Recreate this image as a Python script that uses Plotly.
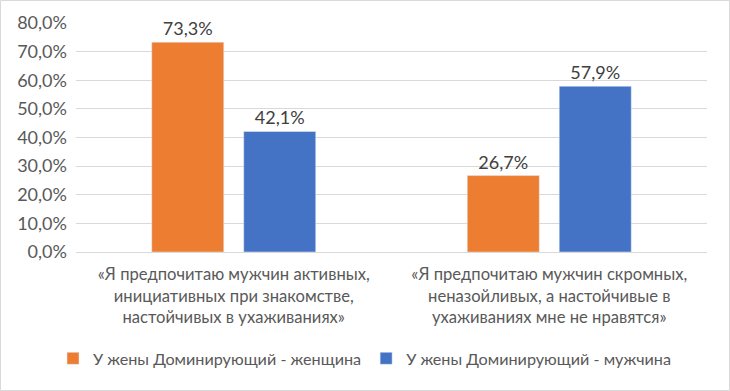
import plotly.graph_objects as go

categories = [
    "«Я предпочитаю мужчин активных,<br>инициативных при знакомстве,<br>настойчивых в ухаживаниях»",
    "«Я предпочитаю мужчин скромных,<br>неназойливых, а настойчивые в<br>ухаживаниях мне не нравятся»",
]
series_names = ["У жены Доминирующий - женщина", "У жены Доминирующий - мужчина"]
women_values = [0.733, 0.267]
men_values = [0.421, 0.579]
colors = ["#ED7D31", "#4472C4"]

W, H = 730, 391
ml, mr, mt, mb = 76, 23, 23, 139
pw, ph = W - ml - mr, H - mt - mb

font_family = "Lato, 'Open Sans', sans-serif"

fig = go.Figure()
for name, vals, col in zip(series_names, [women_values, men_values], colors):
    fig.add_trace(go.Bar(
        x=categories, y=vals, name=name, marker_color=col,
        texttemplate="%{y:.1%}", textposition="outside",
        textfont=dict(size=18, color="#404040", family=font_family),
        cliponaxis=False,
    ))

fig.update_layout(
    width=W, height=H,
    margin=dict(l=ml, r=mr, t=mt, b=mb, autoexpand=False),
    paper_bgcolor="white", plot_bgcolor="white",
    separators=", ",
    barmode="group", bargap=0.417, bargroupgap=0.217,
    font=dict(family=font_family, color="#595959"),
    showlegend=True,
    legend=dict(orientation="h", xref="container", x=0.5, xanchor="center",
                y=-0.39, yanchor="top",
                font=dict(size=16.2, color="#595959", family=font_family),
                itemwidth=30, tracegroupgap=0),
    yaxis=dict(range=[0, 0.8], dtick=0.1, tickformat=".1%",
               showgrid=True, gridcolor="#D9D9D9", gridwidth=1,
               zeroline=False, showline=False, ticks="", automargin=False,
               tickfont=dict(size=18, color="#595959"), ticklabelstandoff=8),
    xaxis=dict(showline=True, linecolor="#D9D9D9", linewidth=1, ticks="",
               automargin=False, ticklabelstandoff=7,
               tickfont=dict(size=16.6, color="#595959")),
    shapes=[dict(type="rect", xref="paper", yref="paper",
                 x0=(-ml + 0.5) / pw, x1=1 + (mr - 0.5) / pw,
                 y0=(-mb + 0.5) / ph, y1=1 + (mt - 0.5) / ph,
                 line=dict(color="#D9D9D9", width=1), fillcolor="rgba(0,0,0,0)")],
)

fig.write_html("out.html", config={"displayModeBar": False},
               post_script="document.body.style.margin='0';")
